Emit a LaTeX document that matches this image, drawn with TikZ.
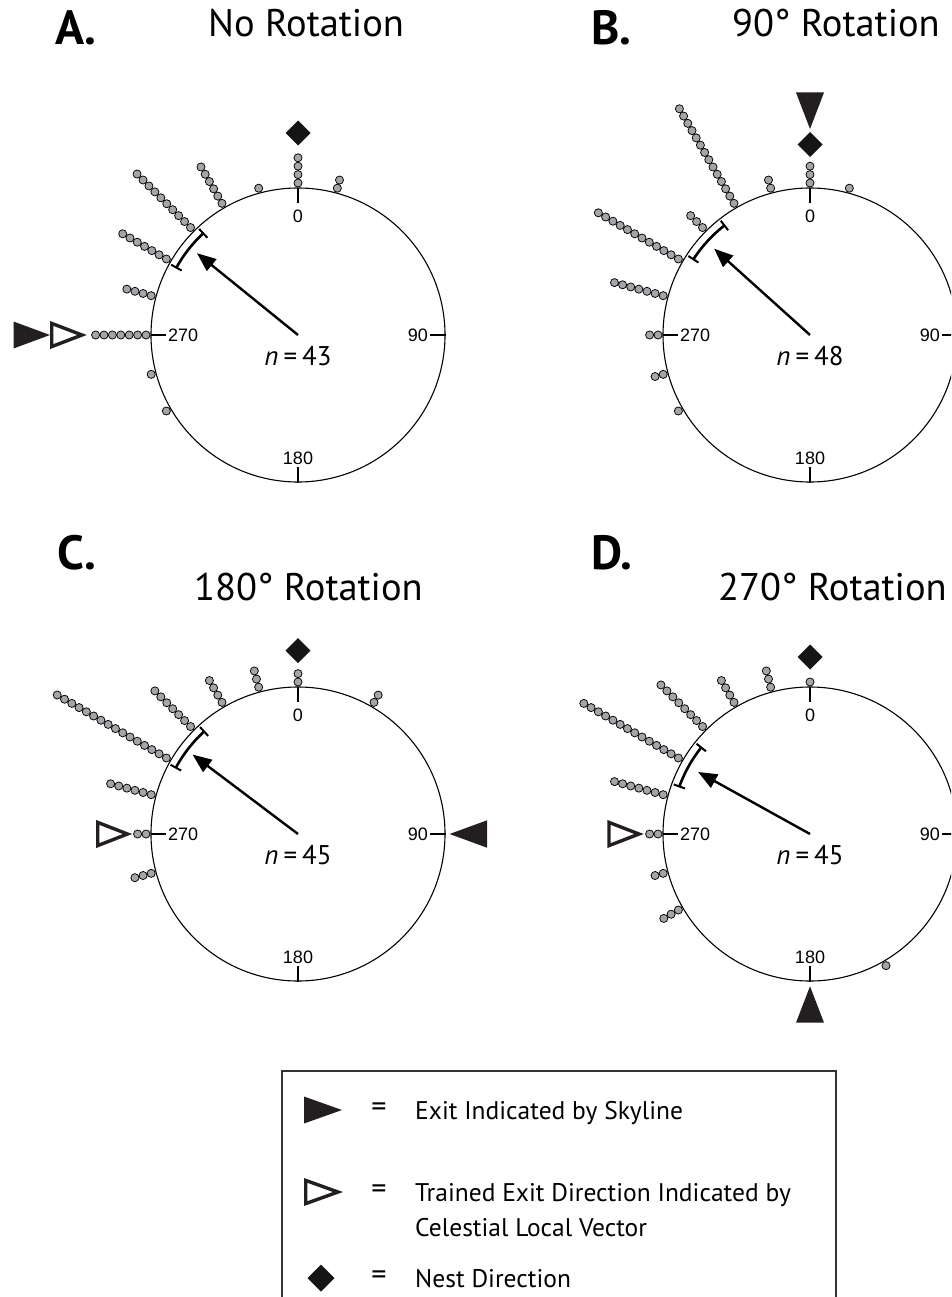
\documentclass[tikz,border=0pt]{standalone}
\usepackage{fontspec}
\setmainfont{PT Sans}
\newfontfamily\arialf{Liberation Sans}
\usetikzlibrary{arrows.meta}
\definecolor{dotgray}{HTML}{A3A5A8}
\definecolor{tricol}{HTML}{231F20}
\definecolor{diamcol}{HTML}{151515}
\definecolor{boxcol}{HTML}{333333}
\tikzset{
 dotst/.style={fill=dotgray, draw=black, line width=0.75pt},
 rim/.style={draw=black, line width=1.1pt},
 tickln/.style={draw=black, line width=1.1pt},
 ticklbl/.style={font=\arialf\fontsize{18}{20}\selectfont, inner sep=1pt},
 nlbl/.style={font=\fontsize{27}{30}\selectfont, inner sep=0pt},
 meanarrow/.style={draw=black, line width=2.4pt, -{Triangle[length=19pt,width=15pt]}},
 ciarc/.style={draw=black, line width=2.6pt},
 cicap/.style={draw=black, line width=2pt},
 filltri/.style={fill=tricol},
 opentri/.style={draw=tricol, fill=white, line width=3.4pt},
 nestdiam/.style={fill=diamcol},
 titlelbl/.style={font=\fontsize{38.5}{40}\selectfont, inner sep=0pt, anchor=base west},
 letterlbl/.style={font=\bfseries\fontsize{48}{50}\selectfont, inner sep=0pt, anchor=base west},
 legtxt/.style={font=\fontsize{25.5}{30}\selectfont, inner sep=0pt, anchor=base west},
 legeq/.style={font=\fontsize{30}{30}\selectfont, inner sep=0pt, anchor=center},
 legbox/.style={draw=boxcol, line width=2pt},
}
\newcommand{\dotstack}[2]{%
  \foreach \k in {1,...,#2}{\path[dotst] ({#1-90}:{152+8.4*(\k-1)}) circle[radius=4.05];}}
\newcommand{\panelbase}[2]{%
  \draw[rim] (0,0) circle[radius=147];
  \draw[tickln] (0,-147) -- (0,-132) (0,148) -- (0,132) (-147,0) -- (-132,0) (148,0) -- (132,0);
  \node[ticklbl] (#1zero) at (0,-119) {0};
  \node[ticklbl] (#1oneeighty) at (0,123) {180};
  \node[ticklbl, anchor=west] (#1twoseventy) at (-131,0) {270};
  \node[ticklbl, anchor=east] (#1ninety) at (131,0) {90};
  \node[nlbl] (#1n) at (0,21) {\textit{n}\hspace{5pt}=\hspace{5pt}#2};
}
\newcommand{\cimark}[2]{%
  \draw[ciarc] plot[domain=#1:#2, samples=25] ({\x-90}:139);
  \draw[cicap] ({#1-90}:133) -- ({#1-90}:145);
  \draw[cicap] ({#2-90}:133) -- ({#2-90}:145);
}
\newcommand{\trimark}[5]{\path[#1, rotate={90-(#2)}] (#3,0) -- (#4,#5) -- (#4,-#5) -- cycle;}
\newcommand{\diamark}[2]{\path[nestdiam, shift={({#1-90}:#2)}] (0,-12.5) -- (12.5,0) -- (0,12.5) -- (-12.5,0) -- cycle;}
\begin{document}
\begin{tikzpicture}[x=1pt,y=-1pt]
\useasboundingbox (0,0) rectangle (951,1297);
\clip (0,0) rectangle (951,1297);
\fill[white] (0,0) rectangle (951,1297);
% titles
\node[letterlbl] (tA) at (55,45) {A.};
\node[titlelbl] (rA) at (208,37) {No Rotation};
\node[letterlbl] (tB) at (591,45) {B.};
\node[titlelbl] (rB) at (732,37) {90° Rotation};
\node[letterlbl] (tC) at (57,569) {C.};
\node[titlelbl] (rC) at (194,600) {180° Rotation};
\node[letterlbl] (tD) at (591,569) {D.};
\node[titlelbl] (rD) at (718,600) {270° Rotation};
% Panel A
\begin{scope}[shift={(298,335)}]
 \panelbase{A}{43}
 \dotstack{0}{4} \dotstack{15}{2} \dotstack{345}{1} \dotstack{330}{6} \dotstack{315}{10}
 \dotstack{300}{7} \dotstack{285}{4} \dotstack{270}{7} \dotstack{255}{1} \dotstack{240}{1}
 \cimark{299}{317}
 \coordinate (Actr) at (0,0); \coordinate (Atip) at ({309-90}:130);
 \draw[meanarrow] (Actr) -- (Atip);
 \diamark{0}{202}
 \trimark{filltri}{270}{248}{284.5}{13.5}
 \trimark{opentri}{270}{216}{246.3}{11.6}
\end{scope}
% Panel B
\begin{scope}[shift={(810,335)}]
 \panelbase{B}{48}
 \dotstack{0}{3} \dotstack{15}{1} \dotstack{345}{2} \dotstack{330}{14} \dotstack{315}{3}
 \dotstack{300}{12} \dotstack{285}{7} \dotstack{270}{2} \dotstack{255}{2} \dotstack{240}{1}
 \cimark{303}{322}
 \coordinate (Bctr) at (0,0); \coordinate (Btip) at ({312-90}:129);
 \draw[meanarrow] (Bctr) -- (Btip);
 \diamark{0}{190.5}
 \trimark{filltri}{0}{206}{242.5}{14}
\end{scope}
% Panel C
\begin{scope}[shift={(298,834)}]
 \panelbase{C}{45}
 \dotstack{0}{2} \dotstack{30}{2} \dotstack{345}{3} \dotstack{330}{4} \dotstack{315}{7}
 \dotstack{300}{16} \dotstack{285}{6} \dotstack{270}{2} \dotstack{255}{3}
 \cimark{298.5}{317.5}
 \coordinate (Cctr) at (0,0); \coordinate (Ctip) at ({307-90}:132);
 \draw[meanarrow] (Cctr) -- (Ctip);
 \diamark{0}{183.5}
 \trimark{opentri}{270}{170.5}{200.3}{11.6}
 \trimark{filltri}{90}{151.6}{189}{13.7}
\end{scope}
% Panel D
\begin{scope}[shift={(810,834)}]
 \panelbase{D}{45}
 \dotstack{0}{1} \dotstack{345}{3} \dotstack{330}{4} \dotstack{315}{8} \dotstack{300}{14}
 \dotstack{285}{7} \dotstack{270}{2} \dotstack{255}{2} \dotstack{240}{3} \dotstack{150}{1}
 \cimark{290}{308.5}
 \coordinate (Dctr) at (0,0); \coordinate (Dtip) at ({299-90}:128);
 \draw[meanarrow] (Dctr) -- (Dtip);
 \diamark{0}{177}
 \trimark{opentri}{270}{171}{201}{11.6}
 \trimark{filltri}{180}{152.3}{188.7}{14}
\end{scope}
% Legend
\draw[legbox] (282,1330) -- (282,1071) -- (836,1071) -- (836,1330);
\path[filltri] (342,1110) -- (304,1096.5) -- (304,1123.5) -- cycle;
\path[opentri] (338,1192) -- (305.7,1180.4) -- (305.7,1203.6) -- cycle;
\path[nestdiam] (321,1264.5) -- (334.5,1278) -- (321,1291.5) -- (307.5,1278) -- cycle;
\node[legeq] (eqA) at (379,1110) {=};
\node[legeq] (eqB) at (379,1192) {=};
\node[legeq] (eqC) at (379,1278) {=};
\node[legtxt] (legA) at (415,1119) {Exit Indicated by Skyline};
\node[legtxt] (legB) at (415,1201) {Trained Exit Direction Indicated by};
\node[legtxt] (legB2) at (415,1236) {Celestial Local Vector};
\node[legtxt] (legC) at (415,1287) {Nest Direction};
\end{tikzpicture}
\end{document}
